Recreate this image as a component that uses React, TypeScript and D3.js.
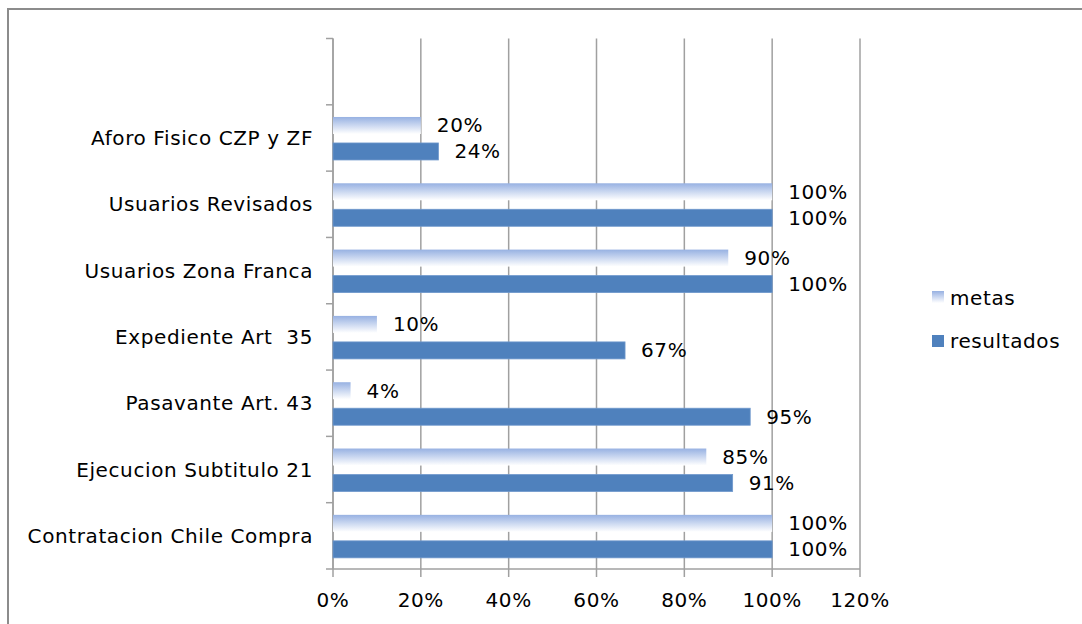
import React from 'react';
import * as d3 from 'd3';

// categories from top to bottom (first row is empty in the source sheet)
const categories = [
  '',
  'Aforo Fisico CZP y ZF',
  'Usuarios Revisados',
  'Usuarios Zona Franca',
  'Expediente Art  35',
  'Pasavante Art. 43',
  'Ejecucion Subtitulo 21',
  'Contratacion Chile Compra',
];
const metas = [null, 0.2, 1.0, 0.9, 0.1, 0.04, 0.85, 1.0];
const resultados = [null, 0.24, 1.0, 1.0, 0.665, 0.95, 0.91, 1.0];
const xTicks = [0, 0.2, 0.4, 0.6, 0.8, 1.0, 1.2];

const FONT = 'Verdana, "DejaVu Sans", sans-serif';
const textStyle = { whiteSpace: 'pre' as const, letterSpacing: '0.6px' };

const App = () => {
  const width = 1082;
  const height = 624;
  const left = 333;
  const right = 860;
  const top = 38.5;
  const bottom = 569;

  const x = d3.scaleLinear().domain([0, 1.2]).range([left, right]);
  const y = d3.scaleBand().domain(categories.map((c, i) => String(i))).range([top, bottom]);
  const bw = y.bandwidth();
  const barH = 17;
  const metaOff = bw / 2 - 21;
  const resOff = bw / 2 + 5;

  const pct = (v: number) => `${Math.round(v * 100)}%`;

  return (
    <svg width={width} height={height} style={{ position: 'absolute', left: 0, top: 0 }}>
      <defs>
        <linearGradient id="metaGrad" x1="0" y1="0" x2="0" y2="1">
          <stop offset="0%" stopColor="#97b1e2" />
          <stop offset="100%" stopColor="#ffffff" />
        </linearGradient>
      </defs>
      <rect x={0} y={0} width={width} height={height} fill="#fff" />
      {/* outer chart border */}
      <path d={`M8,${height} V9 H${width}`} fill="none" stroke="#8c8c8c" strokeWidth={2} />

      {/* vertical gridlines */}
      {xTicks.map((t) => (
        <line key={'g' + t} x1={x(t)} x2={x(t)} y1={top} y2={bottom + 8} stroke="#a0a0a0" strokeWidth={1.5} />
      ))}
      {/* axes */}
      <line x1={left} x2={right} y1={bottom} y2={bottom} stroke="#a0a0a0" strokeWidth={1.5} />
      <line x1={left} x2={left} y1={top} y2={bottom} stroke="#a0a0a0" strokeWidth={1.5} />
      {categories.map((c, i) => (
        <line key={'yt' + i} x1={left - 7} x2={left} y1={y(String(i))!} y2={y(String(i))!} stroke="#a0a0a0" strokeWidth={1.5} />
      ))}
      <line x1={left - 7} x2={left} y1={bottom} y2={bottom} stroke="#a0a0a0" strokeWidth={1.5} />

      {/* x tick labels */}
      {xTicks.map((t) => (
        <text key={'xl' + t} x={x(t)} y={607} textAnchor="middle" fontFamily={FONT} fontSize={20} fill="#000" style={textStyle}>
          {pct(t)}
        </text>
      ))}

      {/* category labels */}
      {categories.map((c, i) => (
        <text key={'cl' + i} x={313} y={y(String(i))! + bw / 2 + 7} textAnchor="end" fontFamily={FONT} fontSize={20} fill="#000" style={textStyle}>
          {c}
        </text>
      ))}

      {/* bars */}
      {categories.map((c, i) => {
        const y0 = y(String(i))!;
        const m = metas[i];
        const r = resultados[i];
        return (
          <g key={'b' + i}>
            {m != null && (
              <>
                <rect x={x(0)} y={y0 + metaOff} width={x(m) - x(0)} height={barH} fill="url(#metaGrad)" />
                <text x={x(m) + 16} y={y0 + metaOff + barH / 2 + 7} fontFamily={FONT} fontSize={20} fill="#000" style={textStyle}>
                  {pct(m)}
                </text>
              </>
            )}
            {r != null && (
              <>
                <rect x={x(0)} y={y0 + resOff} width={x(r) - x(0)} height={barH} fill="#4f81bd" stroke="#6f98cc" strokeWidth={0.8} />
                <text x={x(r) + 16} y={y0 + resOff + barH / 2 + 7} fontFamily={FONT} fontSize={20} fill="#000" style={textStyle}>
                  {pct(r)}
                </text>
              </>
            )}
          </g>
        );
      })}

      {/* legend */}
      <rect x={932} y={291} width={12} height={12} fill="url(#metaGrad)" />
      <text x={950} y={305} fontFamily={FONT} fontSize={20} fill="#000" style={textStyle}>metas</text>
      <rect x={932} y={335} width={12} height={12} fill="#4f81bd" />
      <text x={950} y={348} fontFamily={FONT} fontSize={20} fill="#000" style={textStyle}>resultados</text>
    </svg>
  );
};

export default App;
